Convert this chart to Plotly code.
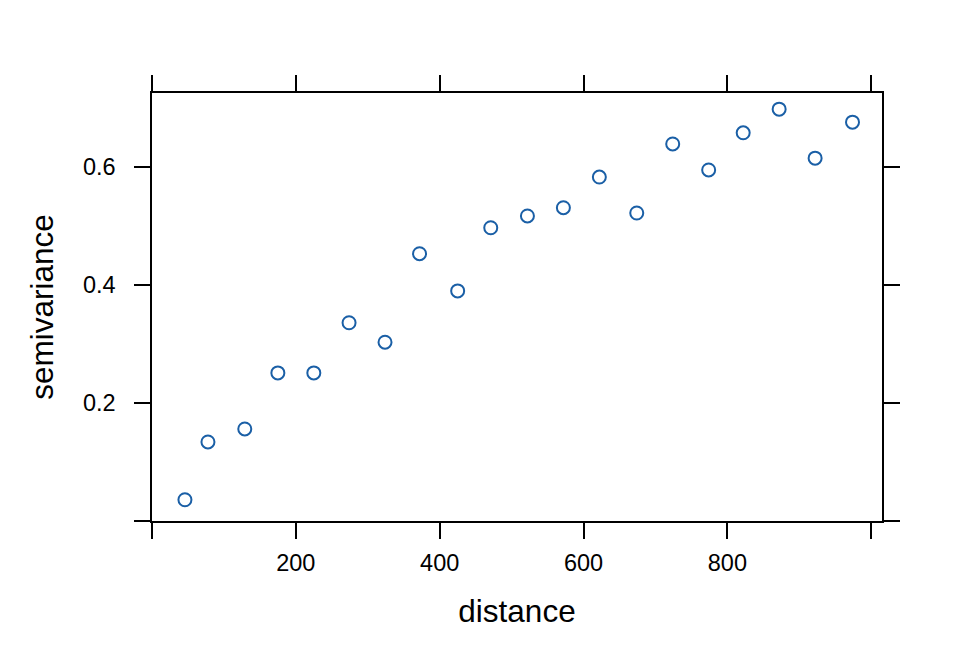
import plotly.graph_objects as go

distance = [45.8, 77.8, 129, 175, 225, 274, 324, 372, 425, 471, 522, 572, 622, 674, 724, 774, 822, 872, 922, 974]
semivariance = [0.036, 0.134, 0.156, 0.251, 0.251, 0.336, 0.303, 0.453, 0.390, 0.497,
                0.517, 0.531, 0.583, 0.522, 0.639, 0.595, 0.658, 0.698, 0.615, 0.676]

x_ticks = [0, 200, 400, 600, 800, 1000]
x_ticktext = ["", "200", "400", "600", "800", ""]
y_ticks = [0, 0.2, 0.4, 0.6]
y_ticktext = ["", "0.2", "0.4", "0.6"]

fig = go.Figure()
fig.add_trace(go.Scatter(
    x=distance, y=semivariance, mode="markers",
    marker=dict(symbol="circle-open", size=13, color="#1a5fa6",
                line=dict(width=2, color="#1a5fa6")),
    showlegend=False,
))

font = "Liberation Sans, Arial, Helvetica, sans-serif"
fig.update_layout(
    width=960, height=672,
    margin=dict(l=144, r=86, t=85, b=159),
    plot_bgcolor="white", paper_bgcolor="white",
    font=dict(family=font, color="black"),
)
fig.update_xaxes(
    range=[0, 1015], tickvals=x_ticks, ticktext=x_ticktext,
    ticks="outside", ticklen=16, tickwidth=1.5, tickcolor="black",
    showline=True, linecolor="black", linewidth=1.5, mirror="ticks",
    showgrid=False, zeroline=False,
    tickfont=dict(size=23.5), ticklabelstandoff=4,
    title=dict(text="distance", font=dict(size=31.5), standoff=25),
)
fig.update_yaxes(
    range=[0, 0.7254], tickvals=y_ticks, ticktext=y_ticktext,
    ticks="outside", ticklen=16, tickwidth=1.5, tickcolor="black",
    showline=True, linecolor="black", linewidth=1.5, mirror="ticks",
    showgrid=False, zeroline=False,
    tickfont=dict(size=23.5), ticklabelstandoff=14,
    title=dict(text="semivariance", font=dict(size=31.5), standoff=20),
)

fig.write_html("out.html")
